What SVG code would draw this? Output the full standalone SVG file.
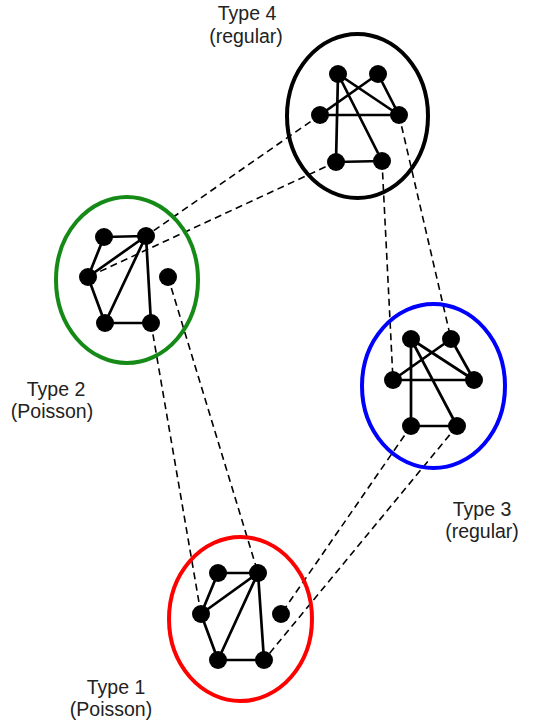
<svg xmlns="http://www.w3.org/2000/svg" width="533" height="727" viewBox="0 0 533 727">
<style>
.ring{fill:none;stroke-width:4}
.e{stroke:#000;stroke-width:2.7;fill:none}
.n{fill:#000}
.d{stroke:#000;stroke-width:1.6;stroke-dasharray:7,4.5;fill:none}
.t{font-family:"Liberation Sans",Arial,sans-serif;font-size:19.5px;fill:#222;text-anchor:middle}
</style>
<rect width="533" height="727" fill="#fff"/>
<g id="connectors">
<line class="d" x1="320" y1="115" x2="146" y2="236"/>
<line class="d" x1="336" y1="162" x2="88" y2="277"/>
<line class="d" x1="382" y1="161" x2="393" y2="380"/>
<line class="d" x1="399" y1="115" x2="451" y2="339"/>
<line class="d" x1="151" y1="323" x2="201" y2="614"/>
<line class="d" x1="168" y1="277" x2="258" y2="573"/>
<line class="d" x1="411" y1="426" x2="281" y2="614"/>
<line class="d" x1="457" y1="426" x2="264" y2="660"/>
</g>
<g id="type4">
<ellipse class="ring" cx="357.5" cy="116" rx="70.5" ry="82" stroke="#000"/>
<path class="e" d="M338 74L336 162M338 74L382 161M338 74L399 115M378 74L320 115M378 74L399 115M320 115L399 115M336 162L382 161"/>
<circle class="n" cx="338" cy="74" r="9"/><circle class="n" cx="378" cy="74" r="9"/>
<circle class="n" cx="320" cy="115" r="9"/><circle class="n" cx="399" cy="115" r="9"/>
<circle class="n" cx="336" cy="162" r="9"/><circle class="n" cx="382" cy="161" r="9"/>
<text class="t" x="247" y="20">Type 4</text>
<text class="t" x="246" y="43">(regular)</text>
</g>
<g id="type2">
<ellipse class="ring" cx="127" cy="280" rx="71" ry="83" stroke="#168a16"/>
<path class="e" d="M104 237L146 236M104 237L88 277M146 236L88 277M88 277L105 323M146 236L105 323M146 236L151 323M105 323L151 323"/>
<circle class="n" cx="104" cy="237" r="9"/><circle class="n" cx="146" cy="236" r="9"/>
<circle class="n" cx="88" cy="277" r="9"/><circle class="n" cx="168" cy="277" r="9"/>
<circle class="n" cx="105" cy="323" r="9"/><circle class="n" cx="151" cy="323" r="9"/>
<text class="t" x="56" y="396">Type 2</text>
<text class="t" x="52" y="418">(Poisson)</text>
</g>
<g id="type3">
<ellipse class="ring" cx="433.5" cy="386" rx="71.5" ry="82" stroke="#0000ff"/>
<path class="e" d="M411 339L411 426M411 339L457 426M411 339L474 380M451 339L393 380M451 339L474 380M393 380L474 380M411 426L457 426"/>
<circle class="n" cx="411" cy="339" r="9"/><circle class="n" cx="451" cy="339" r="9"/>
<circle class="n" cx="393" cy="380" r="9"/><circle class="n" cx="474" cy="380" r="9"/>
<circle class="n" cx="411" cy="426" r="9"/><circle class="n" cx="457" cy="426" r="9"/>
<text class="t" x="482" y="516">Type 3</text>
<text class="t" x="482" y="538">(regular)</text>
</g>
<g id="type1">
<ellipse class="ring" cx="240.5" cy="619" rx="71.5" ry="82" stroke="#ff0000"/>
<path class="e" d="M218 573L258 573M218 573L201 614M258 573L201 614M201 614L218 660M258 573L218 660M258 573L264 660M218 660L264 660"/>
<circle class="n" cx="218" cy="573" r="9"/><circle class="n" cx="258" cy="573" r="9"/>
<circle class="n" cx="201" cy="614" r="9"/><circle class="n" cx="281" cy="614" r="9"/>
<circle class="n" cx="218" cy="660" r="9"/><circle class="n" cx="264" cy="660" r="9"/>
<text class="t" x="116" y="694">Type 1</text>
<text class="t" x="111" y="716">(Poisson)</text>
</g>
</svg>
